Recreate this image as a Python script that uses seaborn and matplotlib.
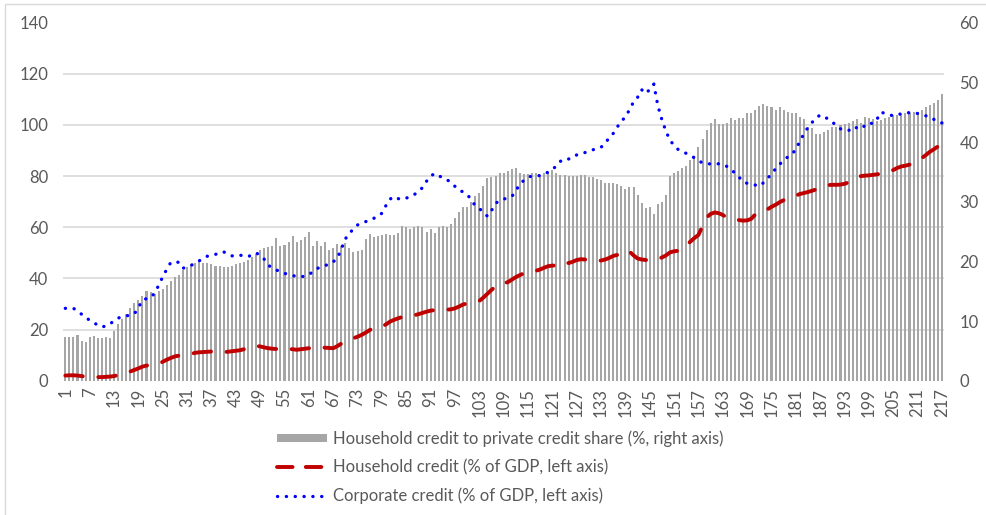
import numpy as np
import matplotlib
matplotlib.use("Agg")
import matplotlib.pyplot as plt
from matplotlib.lines import Line2D
from matplotlib.patches import Patch, Rectangle
import seaborn as sns

# x categories (periods 1..217)
period = list(range(1, 218))

# Household credit to private credit share (%, right axis)
hh_share = [
    7.3, 7.4, 7.4, 7.6, 6.6, 6.5, 7.3, 7.5, 7.1, 7.1,
    7.3, 7.1, 8.4, 9.5, 10.3, 11.1, 12.2, 13.0, 13.6, 14.2,
    15.1, 14.8, 14.6, 15.0, 15.3, 16.0, 16.7, 17.3, 17.7, 18.6,
    19.0, 19.5, 19.8, 20.0, 19.7, 19.7, 19.5, 19.2, 19.2, 19.1,
    19.0, 19.2, 19.5, 19.7, 19.9, 20.2, 20.7, 21.3, 21.9, 22.2,
    22.4, 22.5, 23.9, 22.5, 22.8, 23.2, 24.3, 23.2, 23.5, 24.0,
    24.9, 22.5, 23.4, 22.5, 23.2, 21.9, 22.2, 22.9, 22.5, 23.1,
    22.2, 21.6, 21.8, 21.9, 23.7, 24.6, 24.1, 24.3, 24.4, 24.6,
    24.4, 24.5, 24.8, 25.9, 25.7, 25.5, 25.8, 25.9, 25.8, 25.0,
    25.5, 24.8, 25.7, 25.9, 25.8, 26.3, 27.2, 28.2, 29.1, 29.1,
    30.0, 30.9, 31.5, 32.6, 33.9, 34.2, 34.3, 34.8, 34.8, 35.2,
    35.4, 35.7, 34.8, 34.6, 34.6, 34.8, 34.8, 34.5, 34.8, 35.0,
    35.3, 34.8, 34.5, 34.4, 34.3, 34.3, 34.3, 34.4, 34.4, 34.2,
    34.1, 33.8, 33.6, 33.2, 33.1, 33.1, 32.9, 32.6, 32.1, 32.5,
    32.4, 31.1, 29.7, 28.9, 29.1, 28.0, 29.6, 30.0, 31.1, 34.3,
    34.8, 35.2, 35.7, 35.9, 37.0, 37.5, 39.2, 40.5, 42.0, 43.2,
    43.8, 43.1, 43.1, 43.2, 44.0, 43.7, 44.0, 44.1, 44.9, 44.8,
    45.4, 46.0, 46.4, 46.0, 45.8, 45.4, 45.8, 45.3, 45.1, 44.9,
    44.9, 44.2, 43.8, 42.6, 42.3, 41.4, 41.4, 41.6, 42.1, 42.5,
    42.5, 42.9, 43.1, 43.2, 43.6, 43.8, 43.2, 44.2, 44.0, 43.8,
    43.6, 43.7, 44.0, 44.2, 44.5, 44.5, 44.7, 44.8, 44.9, 45.0,
    45.1, 45.4, 45.8, 46.2, 46.6, 47.1, 48.0,
]

# Household credit (% of GDP, left axis)
hh_gdp = [
    2.0, 2.1, 2.1, 2.0, 1.8, 1.6, 1.5, 1.4, 1.4, 1.4,
    1.5, 1.6, 1.8, 2.2, 2.8, 3.2, 3.6, 4.2, 4.8, 5.5,
    5.9, 6.2, 6.4, 6.6, 7.4, 8.2, 8.9, 9.5, 9.8, 10.0,
    10.2, 10.5, 10.9, 11.1, 11.2, 11.3, 11.4, 11.4, 11.3, 11.2,
    11.3, 11.5, 11.7, 11.9, 12.3, 12.9, 13.4, 13.6, 13.4, 13.0,
    12.7, 12.5, 12.4, 12.3, 12.3, 12.4, 12.3, 12.1, 12.3, 12.5,
    12.7, 12.8, 12.9, 13.1, 12.9, 12.8, 12.7, 13.5, 14.5, 15.6,
    16.1, 16.6, 17.2, 17.9, 18.8, 19.8, 20.7, 20.9, 21.2, 22.0,
    23.1, 23.8, 24.4, 24.9, 25.1, 25.3, 25.6, 26.0, 26.5, 27.0,
    27.4, 27.6, 27.7, 27.8, 27.8, 27.9, 28.3, 29.0, 29.8, 30.2,
    30.3, 30.5, 31.2, 32.5, 34.0, 35.5, 36.8, 37.8, 38.2, 38.5,
    39.5, 40.5, 41.3, 42.0, 42.5, 42.8, 43.0, 43.5, 44.2, 44.8,
    45.0, 45.1, 46.0, 46.4, 46.0, 46.5, 47.2, 47.5, 47.4, 47.2,
    47.0, 46.8, 47.0, 47.4, 48.0, 48.8, 49.2, 50.0, 51.0, 50.5,
    49.0, 47.8, 47.4, 47.2, 47.2, 47.3, 47.5, 48.2, 49.0, 50.2,
    50.6, 50.8, 51.5, 52.8, 54.4, 55.8, 57.0, 60.5, 63.8, 65.2,
    65.8, 65.5, 64.8, 63.8, 63.3, 63.0, 62.8, 62.6, 62.7, 63.3,
    65.0, 66.1, 66.4, 67.0, 68.0, 68.8, 69.8, 70.6, 71.0, 71.8,
    72.4, 73.0, 73.4, 73.8, 74.3, 74.8, 75.4, 76.0, 76.5, 76.6,
    76.6, 76.7, 77.0, 77.6, 78.4, 79.4, 80.0, 80.2, 80.3, 80.5,
    80.7, 81.0, 81.3, 81.7, 82.4, 83.2, 83.8, 84.1, 84.5, 85.2,
    86.0, 87.0, 88.2, 89.5, 90.5, 91.6, 92.8,
]

# Corporate credit (% of GDP, left axis)
corp_gdp = [
    28.3, 28.3, 28.3, 27.2, 26.0, 24.8, 23.6, 22.6, 21.8, 21.0,
    21.4, 22.2, 23.4, 24.5, 24.9, 25.3, 25.7, 26.1, 28.6, 31.5,
    32.1, 32.5, 34.2, 37.3, 40.6, 43.6, 46.3, 46.4, 46.3, 44.0,
    44.5, 45.1, 46.0, 46.9, 47.9, 48.7, 49.0, 49.4, 50.0, 50.4,
    49.5, 48.8, 48.9, 49.1, 48.8, 48.5, 49.2, 50.0, 49.0, 47.5,
    45.2, 44.0, 43.3, 42.6, 42.0, 41.5, 41.1, 40.8, 40.7, 40.8,
    41.5, 42.6, 43.8, 44.6, 45.1, 45.4, 46.5, 47.8, 51.5, 55.5,
    57.5, 59.5, 60.9, 61.6, 62.2, 62.8, 63.5, 64.2, 65.5, 68.5,
    71.0, 72.0, 71.2, 70.9, 71.4, 72.0, 72.8, 74.0, 75.5, 78.0,
    80.0, 81.0, 80.0, 79.6, 78.6, 77.6, 76.0, 74.6, 73.8, 72.8,
    70.9, 68.4, 67.3, 66.0, 64.3, 66.5, 69.3, 70.5, 71.0, 71.5,
    72.0, 74.2, 77.0, 78.3, 79.5, 80.1, 80.2, 80.2, 80.8, 81.6,
    82.6, 84.0, 85.8, 86.8, 86.7, 87.2, 88.3, 88.8, 89.2, 89.7,
    90.3, 90.8, 91.3, 92.8, 95.0, 96.7, 99.2, 101.6, 103.0, 106.0,
    109.0, 110.8, 113.8, 112.3, 113.9, 116.0, 107.5, 102.0, 97.5, 94.0,
    92.0, 90.4, 89.6, 88.9, 88.0, 87.2, 86.0, 85.2, 84.8, 84.8,
    85.0, 84.8, 84.6, 83.8, 82.6, 81.2, 79.6, 77.8, 77.2, 76.9,
    76.5, 76.1, 77.4, 79.0, 81.0, 82.8, 84.6, 86.2, 87.5, 88.6,
    90.4, 93.7, 96.6, 99.1, 101.0, 102.8, 103.9, 103.2, 102.3, 101.0,
    100.0, 98.5, 98.0, 97.8, 99.3, 98.9, 98.4, 99.8, 100.9, 100.5,
    102.3, 105.0, 104.5, 104.0, 103.6, 103.8, 104.5, 104.8, 104.8, 104.8,
    104.5, 104.0, 103.6, 103.2, 102.2, 101.2, 100.8,
]

labels = [
    "Household credit to private credit share (%, right axis)",
    "Household credit (% of GDP, left axis)",
    "Corporate credit (% of GDP, left axis)",
]

BAR_C  = "#A6A6A6"
RED_C  = "#C00000"
BLUE_C = "#0000FF"
TXT_C  = "#595959"
GRID_C = "#D9D9D9"

sns.set_style("white")
plt.rcParams["font.family"] = ["Lato", "DejaVu Sans"]

fig = plt.figure(figsize=(9.86, 5.15), dpi=100)
ax  = fig.add_axes([0.0642, 0.2608, 0.8932, 0.6951])
ax2 = ax.twinx()

# bars on the right axis
sns.barplot(x=period, y=hh_share, ax=ax2, native_scale=True, color=BAR_C,
            saturation=1, width=0.5, errorbar=None, linewidth=0)

# lines on the left axis
dash_red = (0, (4.5, 4.0))
dot_blue = (0, (0.05, 2.6))
sns.lineplot(x=period, y=hh_gdp, ax=ax, color=RED_C, linewidth=2.8,
             linestyle=dash_red, dash_capstyle="round")
sns.lineplot(x=period, y=corp_gdp, ax=ax, color=BLUE_C, linewidth=2.4,
             linestyle=dot_blue, dash_capstyle="round")

ax.set_zorder(ax2.get_zorder() + 1)
ax.patch.set_visible(False)

ax.set_ylim(0, 140)
ax2.set_ylim(0, 60)
ax.set_yticks(np.arange(0, 141, 20))
ax2.set_yticks(np.arange(0, 61, 10))
ax.set_xlim(0.5, 217.5)
ax.set_xticks(period[::6])
ax.set_xticklabels([str(p) for p in period[::6]])

# gridlines follow the left axis but sit behind the bars
ax2.set_yticks(np.arange(0, 141, 20) * 60 / 140, minor=True)
ax2.tick_params(axis="y", which="minor", length=0)
ax2.grid(which="minor", axis="y", color=GRID_C, linewidth=1.2)
ax2.grid(which="major", visible=False)
ax2.set_axisbelow(True)
ax.grid(False)

for a in (ax, ax2):
    for s in a.spines.values():
        s.set_visible(False)
    a.set_xlabel("")
    a.set_ylabel("")

ax.tick_params(axis="y", length=0, pad=11, labelsize=12, labelcolor=TXT_C)
ax2.tick_params(axis="y", which="major", length=0, pad=11, labelsize=12, labelcolor=TXT_C)
ax.tick_params(axis="x", length=0, pad=5, labelsize=12, labelcolor=TXT_C, rotation=90)

handles = [
    Patch(facecolor=BAR_C, edgecolor="none"),
    Line2D([], [], color=RED_C, linewidth=2.8, linestyle=(0, (4.0, 3.4)), dash_capstyle="round"),
    Line2D([], [], color=BLUE_C, linewidth=2.4, linestyle=dot_blue, dash_capstyle="round"),
]
leg = fig.legend(handles, labels, loc="upper left", bbox_to_anchor=(0.281, 0.164),
                 frameon=False, fontsize=12, labelcolor=TXT_C, handlelength=3.0,
                 handleheight=0.42, handletextpad=0.35, labelspacing=0.72,
                 borderpad=0, borderaxespad=0)

# light outer frame of the chart area
fig.patches.append(Rectangle((5 / 986, -0.1), 1.2, 1.1 - 4 / 515, transform=fig.transFigure,
                             fill=False, edgecolor=GRID_C, linewidth=1.0))

fig.savefig("out.png", dpi=100)
